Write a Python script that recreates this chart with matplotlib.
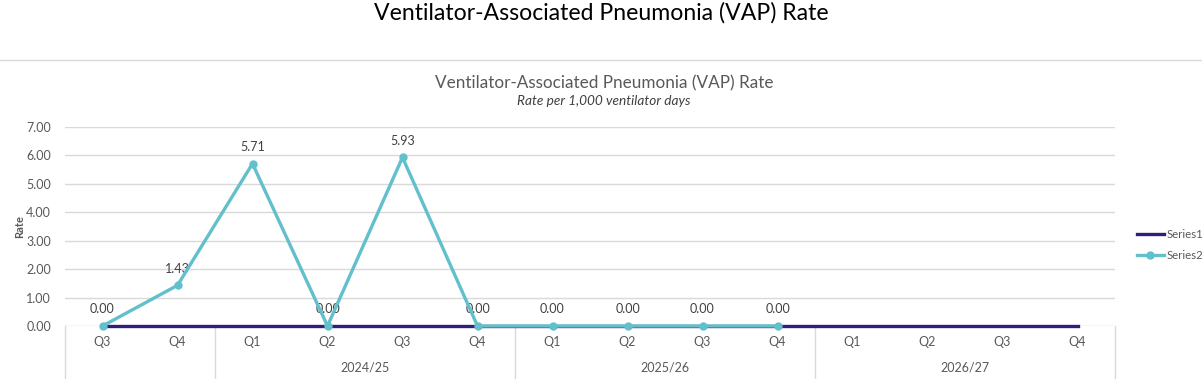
import matplotlib.pyplot as plt
from matplotlib.lines import Line2D
import matplotlib.transforms as mtransforms

plt.rcParams['font.family'] = ['Lato', 'DejaVu Sans']

quarters = ['Q3', 'Q4', 'Q1', 'Q2', 'Q3', 'Q4', 'Q1', 'Q2', 'Q3', 'Q4', 'Q1', 'Q2', 'Q3', 'Q4']
years = ['', '2024/25', '2025/26', '2026/27']
year_sizes = [2, 4, 4, 4]
series1 = [0, 0, 0, 0, 0, 0, 0, 0, 0, 0, 0, 0, 0, 0]
series2 = [0.00, 1.43, 5.71, 0.00, 5.93, 0.00, 0.00, 0.00, 0.00, 0.00]

navy = '#2E1F78'
teal = '#62BFCC'
grey = '#595959'
gridc = '#D9D9D9'

fig = plt.figure(figsize=(12.02, 3.79), dpi=100)
fig.text(601 / 1202, 0.965, 'Ventilator-Associated Pneumonia (VAP) Rate', ha='center', va='center',
         fontsize=16.6, color='black')
fig.add_artist(Line2D([0, 1], [1 - 60 / 379, 1 - 60 / 379], color=gridc, lw=1))

ax = fig.add_axes([65 / 1202, 53 / 379, 1050 / 1202, 199 / 379])
x1 = [i + 0.5 for i in range(len(series1))]
x2 = [i + 0.5 for i in range(len(series2))]

ax.set_xlim(0, len(quarters))
ax.set_ylim(0, 7)
ax.set_yticks(range(8))
ax.set_yticklabels([f'{v:.2f}' for v in range(8)], fontsize=9, color=grey)
ax.yaxis.grid(True, color=gridc, lw=1)
ax.set_axisbelow(True)
for s in ax.spines.values():
    s.set_visible(False)
ax.tick_params(axis='y', length=0, pad=10)
ax.set_xticks([])

ax.plot(x1, series1, color=navy, lw=2.4, zorder=3, label='Series1', clip_on=False)
ax.plot(x2, series2, color=teal, lw=2.4, marker='o', markersize=5, zorder=4, label='Series2',
        clip_on=False)
for xv, yv in zip(x2, series2):
    ax.text(xv, yv + 0.38, f'{yv:.2f}', ha='center', va='bottom', fontsize=9, color='#404040')

# category axis
trans = mtransforms.blended_transform_factory(ax.transData, ax.transAxes)
low = -53 / 199
edges = [0]
for n in year_sizes:
    edges.append(edges[-1] + n)
for e in edges:
    ax.plot([e, e], [0, low], color=gridc, lw=1, transform=trans, clip_on=False)
for xv, q in zip(x1, quarters):
    ax.text(xv, -16 / 199, q, transform=trans, ha='center', va='center', fontsize=9, color=grey)
for i, y in enumerate(years):
    ax.text((edges[i] + edges[i + 1]) / 2, -41 / 199, y, transform=trans, ha='center', va='center',
            fontsize=9, color=grey)

cx = (604 - 65) / 1050
ax.text(cx, 1 + 44 / 199, 'Ventilator-Associated Pneumonia (VAP) Rate', transform=ax.transAxes,
        ha='center', va='center', fontsize=12.3, color=grey)
ax.text(cx, 1 + 26 / 199, 'Rate per 1,000 ventilator days', transform=ax.transAxes,
        ha='center', va='center', fontsize=9.8, color='#404040', style='italic')
ax.set_ylabel('Rate', fontsize=8, color=grey, fontweight='bold')
ax.yaxis.set_label_coords(-40 / 1050, 0.5)

fig.legend(loc='center left', bbox_to_anchor=(1132 / 1202, 1 - 245 / 379), frameon=False,
           fontsize=8.2, handlelength=2.4, handletextpad=0.2, labelspacing=0.9,
           labelcolor=grey, borderaxespad=0)

fig.savefig('out.png', dpi=100)
